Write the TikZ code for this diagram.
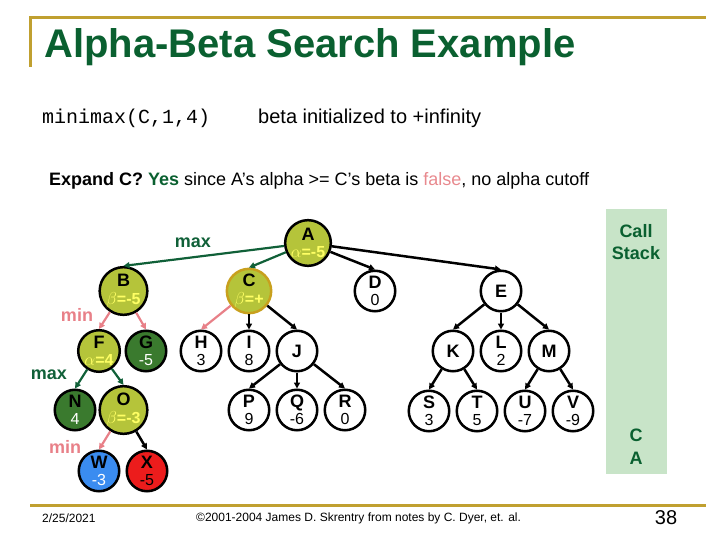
\documentclass[tikz,border=0pt]{standalone}
\usepackage{fontspec}
\setmainfont{Liberation Sans}
\setmonofont{Liberation Mono}
\usetikzlibrary{arrows.meta}
\definecolor{ttlgreen}{RGB}{10,96,48}
\definecolor{gold}{RGB}{192,160,48}
\definecolor{olive}{RGB}{181,196,58}
\definecolor{dkgreen}{RGB}{58,122,46}
\definecolor{nblue}{RGB}{58,140,240}
\definecolor{nred}{RGB}{236,28,28}
\definecolor{pinkc}{RGB}{232,128,136}
\definecolor{egreen}{RGB}{16,96,56}
\definecolor{stackc}{RGB}{200,228,200}
\definecolor{ylw}{RGB}{255,255,100}
\definecolor{cgold}{RGB}{200,160,30}
\definecolor{falsec}{RGB}{232,137,142}
\newcommand\nv[2][black]{{\fontsize{16}{16}\selectfont\mdseries\color{#1}#2}}
\newcommand\yv[1]{{\fontsize{16}{16}\selectfont\bfseries\color{ylw}#1}}
\begin{document}
\begin{tikzpicture}[x=1pt,y=-1pt,
  nd/.style={circle,draw=black,line width=2.5pt,minimum size=40.5pt,inner sep=0pt,fill=white,align=center,font=\fontsize{18}{17.5}\selectfont\bfseries},
  blk/.style={line width=2.5pt,-{Triangle[length=6pt,width=6pt]}},
  grn/.style={line width=2.2pt,draw=egreen,-{Triangle[length=6pt,width=6pt]}},
  pnk/.style={line width=2.2pt,draw=pinkc,-{Triangle[length=6pt,width=6pt]}},
  lbl/.style={font=\fontsize{18}{18}\selectfont\bfseries},
  stk/.style={font=\fontsize{18}{22}\selectfont\bfseries,text=ttlgreen,align=center}]
\useasboundingbox (0,0) rectangle (720,540);
% title
\draw[gold,line width=3pt] (30,67) coordinate (tl1) -- (30,18) coordinate (tl2) -- (706,18) coordinate (tl3);
\node[anchor=west,text=ttlgreen,font=\fontsize{40}{40}\selectfont\bfseries,inner sep=0pt] (title) at (44,47) {Alpha-Beta Search Example};
\node[anchor=west,inner sep=0pt,font=\fontsize{20}{20}\selectfont\ttfamily] (mm) at (42,118) {minimax(C,1,4)};
\node[anchor=west,inner sep=0pt,font=\fontsize{20}{20}\selectfont] (binit) at (258,118) {beta initialized to +infinity};
\node[anchor=west,inner sep=0pt,font=\fontsize{18}{18}\selectfont] (expand) at (49,181) {\textbf{Expand C?} \textbf{\color{ttlgreen}Yes} since A’s alpha >= C’s beta is {\color{falsec}false}, no alpha cutoff};
% call stack
\fill[stackc] (606,209) rectangle (667,474);
\node[stk] (cs) at (636,242) {Call\\Stack};
\node[stk] (csC) at (636,435) {C};
\node[stk] (csA) at (636,458) {A};
% level labels
\node[lbl,text=egreen] (max1) at (193,243) {max};
\node[lbl,text=pinkc] (min1) at (77,315) {min};
\node[lbl,text=egreen] (max2) at (49,375) {max};
\node[lbl,text=pinkc] (min2) at (65,447) {min};
% nodes
\node[nd,fill=olive] (A) at (308,243) {A\\\yv{$\alpha$=-5}};
\node[nd,fill=olive] (B) at (123.5,291) {B\\\yv{$\beta$=-5}};
\node[nd,fill=olive,draw=cgold] (C) at (249,291) {C\\\yv{$\beta$=+}};
\node[nd] (D) at (375,291) {D\\\nv{0}};
\node[nd] (E) at (501,291) {E};
\node[nd,fill=olive] (F) at (99,351) {F\\\yv{$\alpha$=4}};
\node[nd,fill=dkgreen] (G) at (146,351) {G\\\nv[white]{-5}};
\node[nd] (H) at (201,351) {H\\\nv{3}};
\node[nd] (I) at (249,351) {I\\\nv{8}};
\node[nd] (J) at (297,351) {J};
\node[nd] (K) at (453,351) {K};
\node[nd] (L) at (501,351) {L\\\nv{2}};
\node[nd] (M) at (549,351) {M};
\node[nd,fill=dkgreen] (N) at (75,410) {N\\\nv[white]{4}};
\node[nd,fill=olive] (O) at (123.5,410) {O\\\yv{$\beta$=-3}};
\node[nd] (P) at (249,410) {P\\\nv{9}};
\node[nd] (Q) at (297,410) {Q\\\nv{-6}};
\node[nd] (R) at (345,410) {R\\\nv{0}};
\node[nd] (S) at (429,411) {S\\\nv{3}};
\node[nd] (T) at (477,411) {T\\\nv{5}};
\node[nd] (U) at (525,411) {U\\\nv{-7}};
\node[nd] (V) at (573,411) {V\\\nv{-9}};
\node[nd,fill=nblue] (W) at (99,471) {W\\\nv[white]{-3}};
\node[nd,fill=nred] (X) at (147,471) {X\\\nv{-5}};
% edges
\draw[grn] (A) -- (B.north);
\draw[grn] (A) -- (C.north);
\draw[blk] (A) -- (D.north);
\draw[blk] (A) -- (E.north);
\draw[pnk] (B) -- (F.north);
\draw[pnk] (B) -- (G.north);
\draw[pnk] (C) -- (H.north);
\draw[blk] (C) -- (I.north);
\draw[blk] (C) -- (J.north);
\draw[blk] (E) -- (K.north);
\draw[blk] (E) -- (L.north);
\draw[blk] (E) -- (M.north);
\draw[grn] (F) -- (N.north);
\draw[grn] (F) -- (O.north);
\draw[blk] (J) -- (P.north);
\draw[blk] (J) -- (Q.north);
\draw[blk] (J) -- (R.north);
\draw[blk] (K) -- (S.north);
\draw[blk] (K) -- (T.north);
\draw[blk] (M) -- (U.north);
\draw[blk] (M) -- (V.north);
\draw[pnk] (O) -- (W.north);
\draw[blk] (O) -- (X.north);
% footer
\draw[gold,line width=3pt] (30,505) coordinate (fl1) -- (706,505) coordinate (fl2);
\node[anchor=west,inner sep=0pt,font=\fontsize{12}{12}\selectfont] (date) at (42,518) {2/25/2021};
\node[anchor=west,inner sep=0pt,font=\fontsize{12}{12}\selectfont] (copy) at (196,518) {©2001-2004 James D. Skrentry from notes by C. Dyer, et. al.};
\node[inner sep=0pt,font=\fontsize{20}{20}\selectfont] (pg) at (666,518) {38};
\end{tikzpicture}
\end{document}
